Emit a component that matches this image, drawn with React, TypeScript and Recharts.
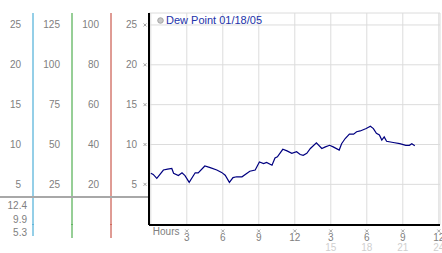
import { ComposedChart, Line, XAxis, YAxis, CartesianGrid, Legend } from "recharts";

// dew point readings (°), hours since midnight
const hours = [
  0, 0.2, 0.5, 1.05, 1.4, 1.75, 1.9, 2.3, 2.6, 2.85, 3.2, 3.7, 3.95, 4.5, 4.95, 5.5, 5.9, 6.2,
  6.55, 6.85, 7.15, 7.6, 8.25, 8.7, 9.05, 9.4, 9.65, 10.1, 10.35, 10.55, 11.0, 11.35, 11.75,
  12.15, 12.45, 12.7, 13.0, 13.3, 13.8, 14.25, 14.55, 14.9, 15.2, 15.7, 15.9, 16.2, 16.55,
  16.9, 17.15, 17.45, 17.95, 18.3, 18.55, 18.8, 19.05, 19.25, 19.45, 19.65, 20.2, 20.75,
  21.25, 21.55, 21.75, 22.0,
];
const dewPoint = [
  6.4, 6.25, 5.75, 6.8, 6.9, 7.0, 6.4, 6.1, 6.45, 6.1, 5.25, 6.45, 6.45, 7.3, 7.1, 6.8, 6.5,
  6.15, 5.25, 5.85, 5.95, 5.95, 6.65, 6.8, 7.8, 7.6, 7.75, 7.4, 8.3, 8.45, 9.4, 9.2, 8.9,
  9.1, 8.75, 8.65, 8.9, 9.5, 10.2, 9.5, 9.7, 9.9, 9.7, 9.3, 10.1, 10.75, 11.3, 11.3, 11.6,
  11.7, 12.0, 12.3, 12.0, 11.4, 11.2, 10.55, 10.95, 10.4, 10.25, 10.1, 9.9, 9.9, 10.1, 9.85,
];

const dewTicks = [5, 10, 15, 20, 25];
const redTicks = [20, 40, 60, 80, 100];
const greenTicks = [25, 50, 75, 100, 125];
const cyanTicks = [5, 10, 15, 20, 25];
const hourTicks = [0, 3, 6, 9, 12, 15, 18, 21, 24];
const hourTopLabels = ["Hours", "3", "6", "9", "12", "3", "6", "9", "12"];
const hourBottomLabels = ["", "", "", "", "", "15", "18", "21", "24"];
const currentValues = ["12.4", "9.9", "5.3"];
const legendLabel = "Dew Point 01/18/05";

const data = hours.map((h, i) => ({ hour: h, dew: dewPoint[i] }));

const FONT = "'Liberation Sans', Arial, sans-serif";
const TICK_GREY = "#808080";

function Marker({ x, y }: { x: number; y: number }) {
  return (
    <path
      d={`M${x - 1.5},${y - 1.5}L${x + 1.5},${y + 1.5}M${x + 1.5},${y - 1.5}L${x - 1.5},${y + 1.5}`}
      stroke="#999"
      strokeWidth={0.9}
    />
  );
}

function HourTick(props: any) {
  const { x, y, payload } = props;
  const i = hourTicks.indexOf(payload.value);
  if (i === 0) {
    return (
      <text x={x + 2} y={y + 10} fill={TICK_GREY} fontSize={10} fontFamily={FONT}>
        {hourTopLabels[0]}
      </text>
    );
  }
  return (
    <g>
      <Marker x={x} y={y + 6} />
      <text x={x} y={y + 16} textAnchor="middle" fill={TICK_GREY} fontSize={10} fontFamily={FONT}>
        {hourTopLabels[i]}
      </text>
      {hourBottomLabels[i] && (
        <text x={x} y={y + 26} textAnchor="middle" fill="#cfcfcf" fontSize={10} fontFamily={FONT}>
          {hourBottomLabels[i]}
        </text>
      )}
    </g>
  );
}

const valueTick = (withMarker: boolean) => (props: any) => {
  const { x, y, payload } = props;
  return (
    <g>
      <text x={x - 12} y={y + 3.5} textAnchor="end" fill={TICK_GREY} fontSize={10} fontFamily={FONT}>
        {payload.value}
      </text>
      {withMarker && <Marker x={x - 4} y={y} />}
    </g>
  );
};

function LegendContent() {
  return (
    <div style={{ display: "flex", alignItems: "center", fontFamily: FONT, fontSize: 11, color: "#2233aa", whiteSpace: "nowrap" }}>
      <svg width={7} height={7} style={{ marginRight: 2 }}>
        <circle cx={3.5} cy={3.5} r={2.8} fill="#c8c8c8" stroke="#999" strokeWidth={0.8} />
      </svg>
      {legendLabel}
    </div>
  );
}

export default function App() {
  return (
    <div style={{ position: "absolute", left: 0, top: 0, width: 442, height: 253, background: "#fff", fontFamily: FONT }}>
      <ComposedChart width={442} height={253} data={data} margin={{ top: 13, right: 2, bottom: 0, left: 0 }}>
        <CartesianGrid yAxisId="a_dew" stroke="#dcdcdc" />
        <XAxis
          dataKey="hour"
          type="number"
          domain={[-0.15, 24.1]}
          allowDataOverflow
          ticks={hourTicks}
          interval={0}
          height={28}
          tickSize={0}
          tickMargin={0}
          tickLine={false}
          axisLine={{ stroke: "#000", strokeWidth: 2 }}
          tick={<HourTick />}
        />
        <YAxis
          yAxisId="a_dew"
          type="number"
          domain={[-0.1, 26.5]}
          allowDataOverflow
          ticks={dewTicks}
          width={38}
          tickSize={0}
          tickMargin={0}
          tickLine={false}
          axisLine={{ stroke: "#000", strokeWidth: 2 }}
          tick={valueTick(true)}
        />
        <YAxis
          yAxisId="b_red"
          type="number"
          domain={[-0.4, 106]}
          allowDataOverflow
          ticks={redTicks}
          width={39}
          tickSize={0}
          tickMargin={0}
          tickLine={false}
          axisLine={{ stroke: "#c0392b" }}
          tick={valueTick(false)}
        />
        <YAxis
          yAxisId="c_green"
          type="number"
          domain={[-0.5, 132.5]}
          allowDataOverflow
          ticks={greenTicks}
          width={39}
          tickSize={0}
          tickMargin={0}
          tickLine={false}
          axisLine={{ stroke: "#2e9e2e" }}
          tick={valueTick(false)}
        />
        <YAxis
          yAxisId="d_cyan"
          type="number"
          domain={[-0.1, 26.5]}
          allowDataOverflow
          ticks={cyanTicks}
          width={33}
          tickSize={0}
          tickMargin={0}
          tickLine={false}
          axisLine={{ stroke: "#2a9fd0" }}
          tick={valueTick(false)}
        />
        <Legend
          layout="vertical"
          align="center"
          verticalAlign="middle"
          wrapperStyle={{ top: 14, left: 157, width: "auto", height: "auto" }}
          content={() => <LegendContent />}
        />
        <Line
          yAxisId="a_dew"
          dataKey="dew"
          type="linear"
          stroke="#000080"
          strokeWidth={1.2}
          dot={false}
          isAnimationActive={false}
        />
      </ComposedChart>
      <svg width={442} height={253} style={{ position: "absolute", left: 0, top: 0, pointerEvents: "none" }}>
        <line x1={33} y1={224} x2={33} y2={236} stroke="#2a9fd0" />
        <line x1={72} y1={224} x2={72} y2={238} stroke="#2e9e2e" />
        <line x1={111} y1={224} x2={111} y2={238} stroke="#c0392b" />
        <line x1={0} y1={197} x2={148} y2={197} stroke="#a8a8a8" strokeWidth={2} />
        {currentValues.map((v, i) => (
          <text key={v} x={27} y={209 + i * 13.5} textAnchor="end" fill={TICK_GREY} fontSize={10} fontFamily={FONT}>
            {v}
          </text>
        ))}
      </svg>
    </div>
  );
}
